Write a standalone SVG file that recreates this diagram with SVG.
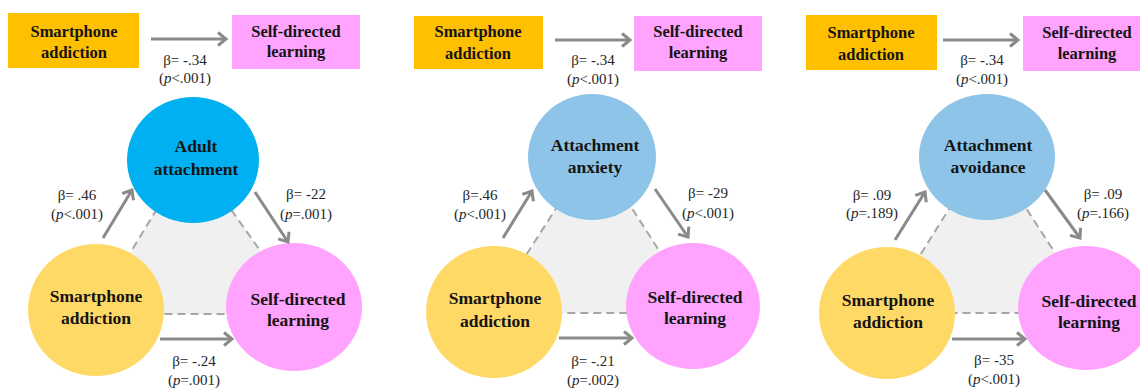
<svg xmlns="http://www.w3.org/2000/svg" width="1140" height="388" viewBox="0 0 1140 388">
<style>
.nt{font-family:"Liberation Serif","Times New Roman",serif;font-weight:bold;fill:#141414;text-anchor:middle}
.nc{font-size:17.5px}
.nr{font-size:16.5px}
.lb{font-family:"Liberation Serif","Times New Roman",serif;font-size:15px;fill:#262626;text-anchor:middle}
.ar{stroke:#8a8a8a;stroke-width:3;fill:none}
.tri{fill:#f0f0f0;stroke:#a6a6a6;stroke-width:2;stroke-dasharray:8 5}
.orange{fill:#ffc000}
.pinkr{fill:#ffa3ff}
.yel{fill:#ffd966}
.pink{fill:#ffa3ff}
.blue1{fill:#00b0f0}
.blue2{fill:#8dc4e8}
</style>
<defs>
<marker id="ah" markerUnits="userSpaceOnUse" markerWidth="16" markerHeight="16" refX="11" refY="8" orient="auto">
<path d="M3,1.5 L11,8 L3,14.5" fill="none" stroke="#8a8a8a" stroke-width="3"/>
</marker>
</defs>
<rect width="1140" height="388" fill="#ffffff"/>

<g id="triangles">
<polygon class="tri" points="191,153 93,314 305,314"/>
<polygon class="tri" points="594,149 489,313 699,313"/>
<polygon class="tri" points="987,148 884,313 1094,313"/>
</g>

<!-- Panel 1 -->
<g id="p1-rect-sa"><rect class="orange" x="8" y="13" width="131" height="55"/><text class="nt nr" x="74" y="37">Smartphone</text><text class="nt nr" x="74" y="58">addiction</text></g>
<g id="p1-rect-sdl"><rect class="pinkr" x="232" y="15" width="128" height="54"/><text class="nt nr" x="296" y="37">Self-directed</text><text class="nt nr" x="296" y="57">learning</text></g>
<g id="p1-adult"><ellipse class="blue1" cx="193" cy="160" rx="66" ry="63"/><text class="nt nc" x="196" y="152">Adult</text><text class="nt nc" x="196" y="175">attachment</text></g>
<g id="p1-sa"><ellipse class="yel" cx="96" cy="310" rx="68" ry="66"/><text class="nt nc" x="96" y="302">Smartphone</text><text class="nt nc" x="96" y="324">addiction</text></g>
<g id="p1-sdl"><ellipse class="pink" cx="294" cy="307" rx="68" ry="64"/><text class="nt nc" x="298" y="305">Self-directed</text><text class="nt nc" x="298" y="326">learning</text></g>

<!-- Panel 2 -->
<g id="p2-rect-sa"><rect class="orange" x="414" y="16" width="129" height="53"/><text class="nt nr" x="478" y="37">Smartphone</text><text class="nt nr" x="478" y="59">addiction</text></g>
<g id="p2-rect-sdl"><rect class="pinkr" x="634" y="16" width="128" height="55"/><text class="nt nr" x="698" y="37">Self-directed</text><text class="nt nr" x="698" y="58">learning</text></g>
<g id="p2-anxiety"><ellipse class="blue2" cx="592" cy="157" rx="64" ry="63"/><text class="nt nc" x="595" y="151">Attachment</text><text class="nt nc" x="595" y="173">anxiety</text></g>
<g id="p2-sa"><ellipse class="yel" cx="494" cy="312" rx="68" ry="66"/><text class="nt nc" x="495" y="304">Smartphone</text><text class="nt nc" x="495" y="327">addiction</text></g>
<g id="p2-sdl"><ellipse class="pink" cx="693" cy="306" rx="67" ry="63"/><text class="nt nc" x="695" y="303">Self-directed</text><text class="nt nc" x="695" y="324">learning</text></g>

<!-- Panel 3 -->
<g id="p3-rect-sa"><rect class="orange" x="806" y="15" width="131" height="55"/><text class="nt nr" x="871" y="38">Smartphone</text><text class="nt nr" x="871" y="60">addiction</text></g>
<g id="p3-rect-sdl"><rect class="pinkr" x="1023" y="16" width="120" height="55"/><text class="nt nr" x="1087" y="38">Self-directed</text><text class="nt nr" x="1087" y="59">learning</text></g>
<g id="p3-avoidance"><ellipse class="blue2" cx="987" cy="157" rx="68" ry="63"/><text class="nt nc" x="988" y="151">Attachment</text><text class="nt nc" x="988" y="173">avoidance</text></g>
<g id="p3-sa"><ellipse class="yel" cx="887" cy="313" rx="68" ry="66"/><text class="nt nc" x="888" y="306">Smartphone</text><text class="nt nc" x="888" y="328">addiction</text></g>
<g id="p3-sdl"><ellipse class="pink" cx="1086" cy="308" rx="68" ry="62"/><text class="nt nc" x="1089" y="307">Self-directed</text><text class="nt nc" x="1089" y="328">learning</text></g>

<g id="connectors">
<line class="ar" x1="151" y1="39" x2="226" y2="39" marker-end="url(#ah)"/>
<line class="ar" x1="103" y1="238" x2="132" y2="190" marker-end="url(#ah)"/>
<line class="ar" x1="255" y1="192" x2="288" y2="242" marker-end="url(#ah)"/>
<line class="ar" x1="160" y1="339" x2="232" y2="339" marker-end="url(#ah)"/>

<line class="ar" x1="555" y1="40" x2="630" y2="40" marker-end="url(#ah)"/>
<line class="ar" x1="503" y1="238" x2="532" y2="191" marker-end="url(#ah)"/>
<line class="ar" x1="655" y1="189" x2="688" y2="237" marker-end="url(#ah)"/>
<line class="ar" x1="559" y1="338" x2="632" y2="338" marker-end="url(#ah)"/>

<line class="ar" x1="943" y1="40" x2="1018" y2="40" marker-end="url(#ah)"/>
<line class="ar" x1="895" y1="240" x2="925" y2="192" marker-end="url(#ah)"/>
<line class="ar" x1="1045" y1="190" x2="1080" y2="238" marker-end="url(#ah)"/>
<line class="ar" x1="952" y1="339" x2="1025" y2="339" marker-end="url(#ah)"/>
</g>

<g id="labels">
<text class="lb" x="185" y="65">β= -.34</text><text class="lb" x="185" y="83">(<tspan font-style="italic">p</tspan>&lt;.001)</text>
<text class="lb" x="77" y="200">β= .46</text><text class="lb" x="77" y="219">(<tspan font-style="italic">p</tspan>&lt;.001)</text>
<text class="lb" x="306" y="199">β= -22</text><text class="lb" x="306" y="219">(<tspan font-style="italic">p</tspan>=.001)</text>
<text class="lb" x="194" y="366">β= -.24</text><text class="lb" x="194" y="385">(<tspan font-style="italic">p</tspan>=.001)</text>

<text class="lb" x="593" y="65">β= -.34</text><text class="lb" x="593" y="84">(<tspan font-style="italic">p</tspan>&lt;.001)</text>
<text class="lb" x="480" y="200">β=.46</text><text class="lb" x="480" y="219">(<tspan font-style="italic">p</tspan>&lt;.001)</text>
<text class="lb" x="708" y="198">β= -29</text><text class="lb" x="708" y="218">(<tspan font-style="italic">p</tspan>&lt;.001)</text>
<text class="lb" x="593" y="366">β= -.21</text><text class="lb" x="593" y="385">(<tspan font-style="italic">p</tspan>=.002)</text>

<text class="lb" x="982" y="65">β= -.34</text><text class="lb" x="982" y="84">(<tspan font-style="italic">p</tspan>&lt;.001)</text>
<text class="lb" x="872" y="200">β= .09</text><text class="lb" x="872" y="218">(<tspan font-style="italic">p</tspan>=.189)</text>
<text class="lb" x="1103" y="199">β= .09</text><text class="lb" x="1103" y="218">(<tspan font-style="italic">p</tspan>=.166)</text>
<text class="lb" x="994" y="365">β= -35</text><text class="lb" x="994" y="384">(<tspan font-style="italic">p</tspan>&lt;.001)</text>
</g>
</svg>
